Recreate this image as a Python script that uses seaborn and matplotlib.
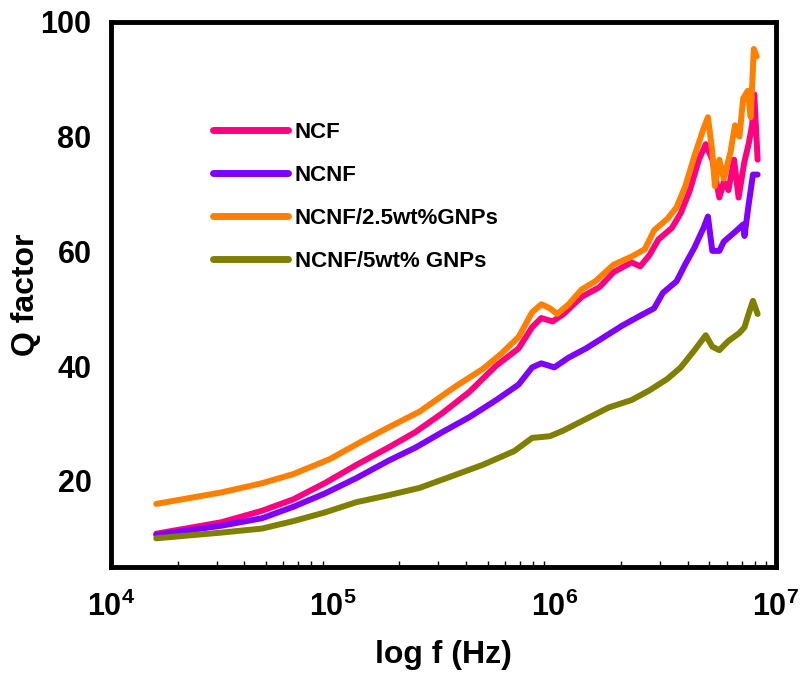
import numpy as np
import pandas as pd
import matplotlib
matplotlib.use("Agg")
import matplotlib.pyplot as plt
import matplotlib.ticker as mticker
import seaborn as sns

# Q factor versus frequency for the four fibre samples
f_ncf = [1.6e4, 3.15e4, 4.8e4, 6.65e4, 9.2e4, 1.28e5, 1.78e5, 2.36e5, 3.12e5, 4.13e5,
         5.47e5, 6.9e5, 7.94e5, 8.73e5, 9.82e5, 1.10e6, 1.33e6, 1.60e6, 1.85e6, 2.23e6,
         2.44e6, 2.69e6, 2.95e6, 3.39e6, 3.72e6, 4.09e6, 4.49e6, 4.82e6, 5.16e6, 5.55e6,
         5.81e6, 6.10e6, 6.47e6, 6.78e6, 7.18e6, 7.52e6, 7.80e6, 7.98e6, 8.26e6]
q_ncf = [10.8, 12.8, 14.8, 16.8, 19.6, 22.8, 25.8, 28.5, 31.8, 35.5,
         40.1, 43.1, 46.8, 48.4, 47.8, 49.1, 52.1, 53.8, 56.4, 58.1,
         57.4, 59.4, 62.1, 64.1, 66.7, 70.7, 76.0, 78.7, 76.0, 69.4,
         72.1, 70.7, 76.0, 69.4, 75.4, 78.7, 82.0, 87.4, 76.0]

f_ncnf = [1.6e4, 3.15e4, 4.8e4, 6.65e4, 9.2e4, 1.28e5, 1.78e5, 2.36e5, 3.12e5, 4.13e5,
          5.47e5, 6.9e5, 7.94e5, 8.73e5, 1.0e6, 1.16e6, 1.39e6, 1.68e6, 2.03e6, 2.44e6,
          2.82e6, 3.09e6, 3.56e6, 3.90e6, 4.29e6, 4.71e6, 4.93e6, 5.16e6, 5.55e6, 5.81e6,
          6.53e6, 7.11e6, 7.21e6, 7.52e6, 7.87e6, 8.26e6]
q_ncnf = [10.6, 12.2, 13.5, 15.5, 17.8, 20.5, 23.5, 25.8, 28.5, 31.1,
          34.1, 36.8, 39.8, 40.5, 39.8, 41.5, 43.1, 45.1, 47.1, 48.8,
          50.1, 52.8, 54.8, 57.8, 60.7, 64.1, 66.1, 60.1, 60.1, 61.7,
          63.4, 64.7, 62.7, 68.1, 73.4, 73.4]

f_gnp25 = [1.6e4, 3.15e4, 4.8e4, 6.65e4, 9.7e4, 1.34e5, 1.78e5, 2.47e5, 3.59e5, 4.75e5,
           5.73e5, 6.9e5, 7.94e5, 8.73e5, 9.55e5, 1.03e6, 1.16e6, 1.33e6, 1.53e6, 1.85e6,
           2.23e6, 2.56e6, 2.82e6, 3.24e6, 3.56e6, 3.90e6, 4.29e6, 4.71e6, 4.93e6, 5.16e6,
           5.30e6, 5.55e6, 5.81e6, 6.24e6, 6.53e6, 6.84e6, 7.11e6, 7.45e6, 7.69e6, 7.94e6,
           8.18e6]
q_gnp25 = [16.0, 18.0, 19.6, 21.2, 23.8, 26.8, 29.3, 32.1, 36.5, 39.5,
           42.1, 45.1, 49.4, 50.8, 50.1, 49.1, 50.8, 53.4, 54.8, 57.7,
           59.1, 60.4, 63.7, 65.7, 67.7, 71.4, 76.7, 81.4, 83.4, 77.4,
           71.4, 76.0, 72.7, 77.4, 82.0, 80.0, 86.7, 88.0, 83.4, 95.3,
           94.0]

f_gnp5 = [1.6e4, 3.15e4, 4.8e4, 6.65e4, 9.2e4, 1.28e5, 1.78e5, 2.47e5, 3.43e5, 4.75e5,
          6.59e5, 7.94e5, 9.55e5, 1.10e6, 1.39e6, 1.76e6, 2.23e6, 2.69e6, 3.24e6, 3.72e6,
          4.29e6, 4.82e6, 5.16e6, 5.55e6, 6.10e6, 6.84e6, 7.21e6, 7.52e6, 7.87e6, 8.26e6]
q_gnp5 = [10.0, 11.0, 11.7, 13.0, 14.5, 16.3, 17.5, 18.8, 20.8, 22.8,
          25.2, 27.5, 27.8, 28.8, 30.8, 32.8, 34.1, 35.8, 37.8, 39.8,
          42.8, 45.4, 43.4, 42.8, 44.4, 45.8, 46.8, 49.1, 51.4, 49.1]

labels = ["NCF", "NCNF", "NCNF/2.5wt%GNPs", "NCNF/5wt% GNPs"]
colors = ["#FF0080", "#8000FF", "#FF8000", "#808000"]

frames = []
for lab, f, q in zip(labels, [f_ncf, f_ncnf, f_gnp25, f_gnp5],
                     [q_ncf, q_ncnf, q_gnp25, q_gnp5]):
    frames.append(pd.DataFrame({"freq": f, "Q": q, "sample": lab}))
df = pd.concat(frames, ignore_index=True)

sns.set_style("white")
plt.rcParams["font.family"] = ["Liberation Sans", "DejaVu Sans"]
plt.rcParams["font.weight"] = "bold"
plt.rcParams["mathtext.default"] = "regular"
plt.rcParams["text.color"] = "black"
plt.rcParams["axes.labelcolor"] = "black"
plt.rcParams["xtick.color"] = "black"
plt.rcParams["ytick.color"] = "black"

fig = plt.figure(figsize=(8.02, 6.81), dpi=100)
ax = fig.add_axes([0.1384, 0.1674, 0.8292, 0.8003])

sns.lineplot(data=df, x="freq", y="Q", hue="sample", hue_order=labels,
             palette=colors, estimator=None, sort=False, linewidth=4.3, ax=ax)

ax.set_xscale("log")
ax.set_xlim(1e4, 1e7)
ax.set_ylim(5, 100)
ax.set_yticks([20, 40, 60, 80, 100])
ax.xaxis.set_major_locator(mticker.LogLocator(base=10, numticks=10))
ax.xaxis.set_minor_locator(mticker.LogLocator(base=10, subs=np.arange(2, 10), numticks=20))
ax.yaxis.set_minor_locator(mticker.NullLocator())

ax.set_xlabel("log f (Hz)", fontsize=23, fontweight="bold", labelpad=12)
ax.set_ylabel("Q factor", fontsize=23, fontweight="bold")
ax.yaxis.set_label_coords(-0.105, 0.5)

ax.tick_params(axis="both", which="major", direction="out", length=8, width=3.5,
               labelsize=22, pad=6)
ax.tick_params(axis="x", which="major", pad=10)
ax.tick_params(axis="x", which="minor", direction="in", length=4, width=1,
               bottom=True)
for lab in ax.get_xticklabels() + ax.get_yticklabels():
    lab.set_fontweight("bold")

for sp in ax.spines.values():
    sp.set_linewidth(3.5)
    sp.set_color("black")

leg = ax.legend(loc="upper left", bbox_to_anchor=(0.153, 0.816), frameon=False,
                fontsize=16, handlelength=3.4, handletextpad=0.3,
                labelspacing=0.98, borderaxespad=0, borderpad=0)
for t in leg.get_texts():
    t.set_fontweight("bold")
for h in leg.get_lines():
    h.set_linewidth(5)

fig.savefig("out.png", dpi=100)
